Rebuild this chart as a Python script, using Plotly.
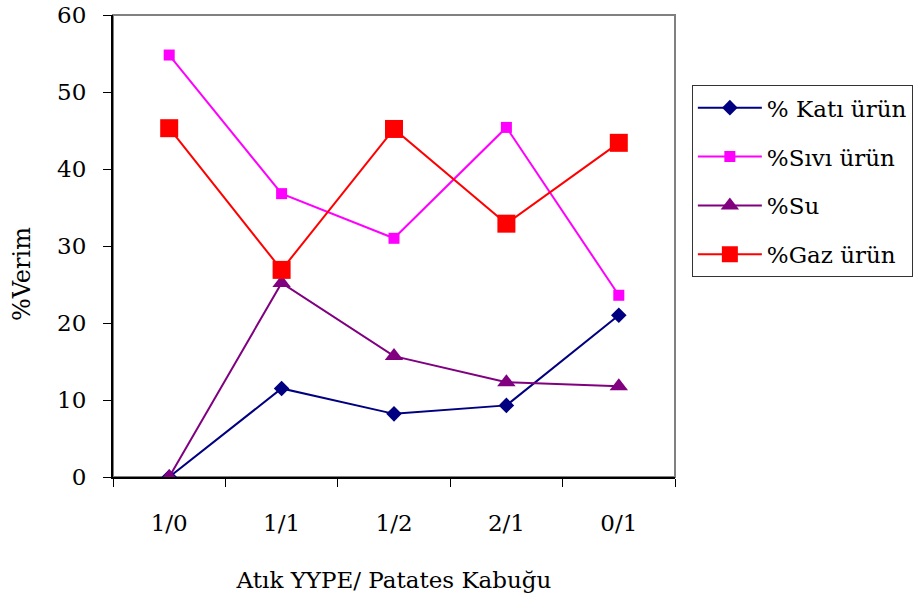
import plotly.graph_objects as go

categories = ["1/0", "1/1", "1/2", "2/1", "0/1"]
kati = [0.0, 11.5, 8.2, 9.3, 21.0]
sivi = [54.8, 36.8, 31.0, 45.4, 23.6]
su = [0.0, 25.2, 15.7, 12.3, 11.8]
gaz = [45.3, 26.9, 45.2, 32.9, 43.4]
y_ticks = [0, 10, 20, 30, 40, 50, 60]

FONT = "DejaVu Serif"

series = [
    ("% Katı ürün", kati, "#000080", "diamond", 12),
    ("%Sıvı ürün", sivi, "#FF00FF", "square", 11),
    ("%Su", su, "#800080", "triangle-up", 16),
    ("%Gaz ürün", gaz, "#FF0000", "square", 18),
]

fig = go.Figure()
for i, (name, vals, col, sym, sz) in enumerate(series):
    fig.add_trace(go.Scatter(
        x=categories, y=vals, name=name, mode="lines+markers",
        line=dict(color=col, width=2),
        marker=dict(symbol=sym, size=sz, color=col, line=dict(width=0)),
        legendgroup=f"g{i}",
    ))

fig.update_layout(
    width=924, height=596,
    margin=dict(l=113, r=249, t=15, b=119, autoexpand=False),
    paper_bgcolor="white", plot_bgcolor="white",
    font=dict(family=FONT, size=23, color="black"),
    showlegend=True,
    legend=dict(
        x=1.03, y=0.848, xanchor="left", yanchor="top",
        bordercolor="#333333", borderwidth=1,
        font=dict(family=FONT, size=23),
        traceorder="grouped", tracegroupgap=16,
        itemwidth=64,
    ),
    shapes=[dict(type="rect", xref="paper", yref="paper", x0=0, x1=1, y0=0, y1=1,
                 line=dict(color="#808080", width=2), layer="below")],
    annotations=[dict(text="%Verim", xref="paper", yref="paper", x=-0.163, y=0.44,
                      xanchor="center", yanchor="middle", textangle=-90, showarrow=False,
                      font=dict(family=FONT, size=24))],
)
fig.update_xaxes(
    type="category", range=[-0.5, 4.5], automargin=False,
    showline=True, linecolor="black", linewidth=2,
    ticks="outside", tickson="boundaries", ticklen=8, tickcolor="black", tickwidth=1,
    showgrid=False, zeroline=False,
    tickfont=dict(family=FONT, size=23),
    ticklabelstandoff=24,
    title=dict(text="Atık YYPE/ Patates Kabuğu", font=dict(family=FONT, size=23), standoff=37),
)
fig.update_yaxes(
    range=[0, 60], tickvals=y_ticks, automargin=False,
    showline=True, linecolor="black", linewidth=2,
    ticks="outside", ticklen=8, tickcolor="black", tickwidth=1,
    showgrid=False, zeroline=False,
    tickfont=dict(family=FONT, size=23),
    ticklabelstandoff=12,
)

fig.write_html("out.html")
